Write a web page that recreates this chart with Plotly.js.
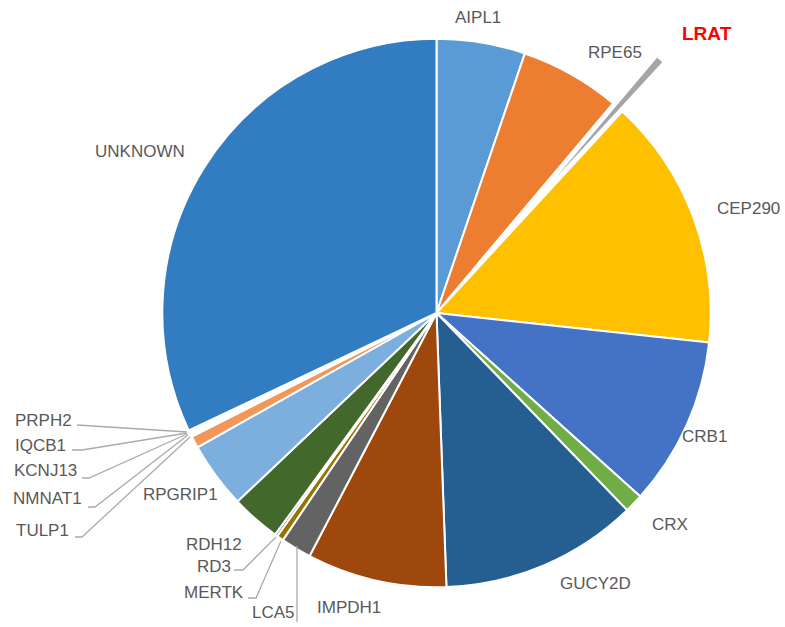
<!DOCTYPE html>
<html>
<head>
<meta charset="utf-8">
<script src="https://cdn.plot.ly/plotly-3.0.1.min.js"></script>
<style>
html,body{margin:0;padding:0;background:#fff;overflow:hidden;width:785px;height:627px;}
#chart{position:absolute;left:0;top:-27px;width:785px;height:680px;}
</style>
</head>
<body>
<div id="chart"></div>
<script>
// ---- data (percent of cases) ----
const genes = ["AIPL1","RPE65","LRAT","CEP290","CRB1","CRX","GUCY2D","IMPDH1","LCA5","MERTK","RD3","RDH12","RPGRIP1","TULP1","NMNAT1","KCNJ13","IQCB1","PRPH2","UNKNOWN"];
const shares = [5.2, 5.9, 0.7, 14.8, 9.9, 1.1, 11.6, 8.2, 1.8, 0.4, 0.15, 2.9, 3.9, 0.7, 0.1, 0.1, 0.1, 0.1, 31.9];
const sliceColors = ["#5B9BD5","#ED7D31","#A5A5A5","#FFC000","#4472C4","#70AD47","#255E91","#9E480E","#636363","#997300","#264478","#43682B","#7CAFDD","#F1975A","#B7B7B7","#FFCD33","#698ED0","#8CC168","#327DC2"];
const highlighted = "LRAT";

// ---- layout helpers ----
const W = 785, H = 680, OFF = 27;
function px(x, y){ return {x: x / W, y: 1 - (y + OFF) / H}; }

// label placement (pixel positions in the 785x627 window)
const labelPos = {
  AIPL1:   {x:478, y:18,  a:"center"},
  RPE65:   {x:615, y:52,  a:"center"},
  LRAT:    {x:707, y:33,  a:"center"},
  CEP290:  {x:715, y:208, a:"left"},
  CRB1:    {x:680, y:436, a:"left"},
  CRX:     {x:670, y:524, a:"center"},
  GUCY2D:  {x:595, y:583, a:"center"},
  IMPDH1:  {x:349, y:607, a:"center"},
  LCA5:    {x:273, y:612, a:"center"},
  MERTK:   {x:246, y:592, a:"right"},
  RD3:     {x:233, y:566, a:"right"},
  RDH12:   {x:244, y:544, a:"right"},
  RPGRIP1: {x:180, y:494, a:"center"},
  PRPH2:   {x:74,  y:420, a:"right"},
  IQCB1:   {x:68,  y:445, a:"right"},
  KCNJ13:  {x:79,  y:471, a:"right"},
  NMNAT1:  {x:84,  y:498, a:"right"},
  TULP1:   {x:71,  y:530, a:"right"},
  UNKNOWN: {x:140, y:152, a:"center"}
};
const leaders = [
  [[77,425],[187,432]],
  [[72,450],[82,450],[187,433]],
  [[82,478],[89,478],[187,434]],
  [[88,507],[95,507],[188,435]],
  [[75,537],[82,537],[190,437]],
  [[234,570],[243,570],[276,537]],
  [[248,598],[256,598],[281,541]],
  [[297,546],[297,622]]
];

const annotations = genes.map(g => {
  const p = labelPos[g], q = px(p.x, p.y);
  const hl = g === highlighted;
  return {
    text: hl ? "<b>" + g + "</b>" : g,
    xref:"paper", yref:"paper", x:q.x, y:q.y,
    xanchor:p.a, yanchor:"middle", showarrow:false,
    font:{family:"Liberation Sans, Arial, sans-serif", size: hl ? 19 : 17, color: hl ? "#FF0000" : "#595959"}
  };
});
const shapes = leaders.map(pts => {
  const d = pts.map((p,i) => { const q = px(p[0],p[1]); return (i ? "L" : "M") + q.x + "," + q.y; }).join(" ");
  return {type:"path", xref:"paper", yref:"paper", path:d, line:{color:"#ABABAB", width:1.3}};
});

const trace = {
  type:"pie",
  labels: genes,
  values: shares,
  sort:false,
  direction:"clockwise",
  rotation:0,
  textinfo:"none",
  hoverinfo:"label+percent",
  pull: genes.map(g => g === highlighted ? 0.24 : 0),
  marker:{
    colors: sliceColors,
    line:{color:"#FFFFFF", width: genes.map(g => g === highlighted ? 5 : 2)}
  },
  domain:{x:[(436.5-340)/W, (436.5+340)/W], y:[0,1]}
};

Plotly.newPlot("chart", [trace], {
  width:W, height:H,
  margin:{l:0,r:0,t:0,b:0},
  showlegend:false,
  paper_bgcolor:"#FFFFFF",
  annotations: annotations,
  shapes: shapes
}, {staticPlot:true});
</script>
</body>
</html>
